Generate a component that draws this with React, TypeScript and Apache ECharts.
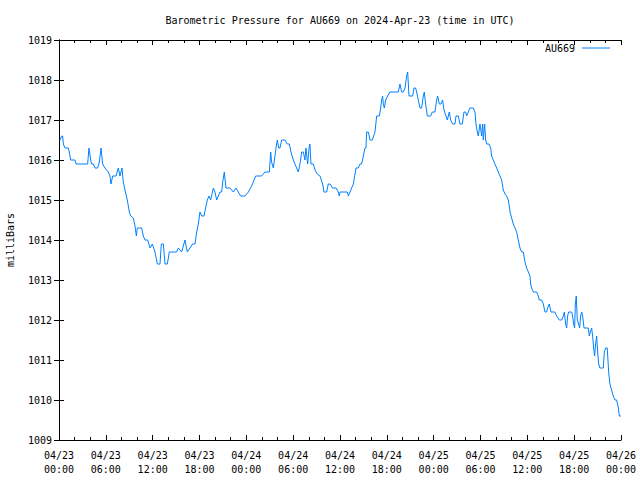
import React, { useEffect, useRef } from "react";
import * as echarts from "echarts";

const TITLE = "Barometric Pressure for AU669 on 2024-Apr-23 (time in UTC)";
const SERIES_NAME = "AU669";
const Y_NAME = "milliBars";

// hours since 2024-04-23 00:00 UTC
const hours: number[] = [
  0.13, 0.34, 0.47, 0.56, 0.77, 1.2, 1.32, 1.49, 2.05, 2.18, 3.67, 3.84, 4.06, 4.18, 4.4, 4.61, 4.95, 5.17, 5.38, 5.59,
  5.89, 6.32, 6.53, 6.66, 6.88, 7.3, 7.6, 7.81, 8.07, 8.24, 8.45, 8.75, 9.01, 9.18, 9.52, 9.74, 9.91, 10.03, 10.59, 10.8,
  11.02, 11.36, 11.66, 11.96, 12.3, 12.6, 12.94, 13.11, 13.37, 13.58, 13.88, 14.13, 15.07, 15.29, 15.71, 16.14, 16.44, 16.78, 17.12, 17.42,
  17.64, 17.85, 18.06, 18.28, 18.58, 18.83, 19.0, 19.22, 19.43, 19.77, 19.98, 20.2, 20.41, 20.63, 20.84, 20.97, 21.18, 21.39, 21.91, 22.33,
  22.67, 22.97, 23.27, 23.83, 24.26, 24.68, 24.9, 25.19, 25.96, 26.39, 26.95, 27.12, 27.24, 27.46, 27.67, 27.8, 27.97, 28.14, 28.31, 28.53,
  28.95, 29.25, 29.51, 29.72, 30.02, 30.23, 30.66, 30.87, 31.09, 31.3, 31.51, 31.64, 31.86, 32.03, 32.15, 32.28, 32.58, 32.8, 33.09, 33.44,
  33.78, 33.95, 34.29, 34.5, 34.72, 35.06, 35.49, 35.78, 35.91, 36.0, 36.94, 37.07, 37.28, 37.49, 37.71, 37.92, 38.05, 38.35, 38.56, 38.77,
  38.99, 39.2, 39.33, 39.41, 39.63, 39.84, 40.14, 40.48, 40.7, 41.04, 41.21, 41.34, 41.46, 41.55, 41.68, 41.85, 42.1, 42.4, 43.47, 43.68,
  43.9, 44.11, 44.33, 44.54, 44.67, 44.84, 45.31, 45.48, 45.69, 45.82, 46.03, 46.25, 46.46, 46.67, 46.8, 46.97, 47.19, 47.61, 47.83, 48.17,
  48.38, 48.51, 48.72, 48.94, 49.15, 49.32, 49.58, 49.75, 50.0, 50.18, 50.43, 50.73, 50.86, 51.16, 51.37, 51.67, 51.88, 52.1, 52.22, 52.44,
  52.65, 53.08, 53.29, 53.42, 53.59, 53.72, 53.93, 54.15, 54.28, 54.36, 54.53, 54.66, 54.79, 55.09, 55.3, 55.43, 55.64, 55.85, 56.07, 56.28,
  56.5, 56.71, 56.92, 57.14, 57.35, 57.56, 57.69, 57.78, 57.99, 58.2, 58.42, 58.63, 58.84, 59.06, 59.27, 59.48, 59.7, 59.91, 60.13, 60.34,
  60.42, 60.55, 60.77, 61.19, 61.41, 61.53, 61.83, 62.05, 62.26, 62.47, 62.6, 62.81, 63.03, 63.54, 63.75, 64.1, 64.4, 64.61, 64.74, 64.91,
  65.04, 65.16, 65.29, 65.68, 65.8, 65.93, 66.06, 66.15, 66.27, 66.4, 66.57, 66.7, 66.83, 66.96, 67.09, 67.26, 67.81, 67.94, 68.07, 68.24,
  68.37, 68.49, 68.62, 68.75, 68.88, 69.01, 69.14, 69.31, 69.52, 69.73, 69.86, 70.03, 70.24, 70.42, 70.58, 70.8, 71.01, 71.23, 71.44, 71.66,
  71.78, 72.0,
];

const pressure: number[] = [
  1016.5, 1016.6, 1016.6, 1016.4, 1016.3, 1016.3, 1016.2, 1016.0, 1016.0, 1015.9, 1015.9, 1016.3, 1016.0, 1015.9, 1015.9, 1015.8, 1015.8, 1015.95, 1016.3, 1015.9,
  1015.8, 1015.7, 1015.6, 1015.4, 1015.6, 1015.6, 1015.8, 1015.6, 1015.8, 1015.45, 1015.25, 1015.0, 1014.7, 1014.6, 1014.55, 1014.35, 1014.1, 1014.3, 1014.3, 1014.1,
  1014.0, 1014.0, 1013.8, 1013.9, 1013.7, 1013.4, 1013.4, 1013.9, 1013.9, 1013.4, 1013.4, 1013.7, 1013.7, 1013.8, 1013.7, 1014.0, 1013.7, 1013.8, 1013.9, 1013.9,
  1014.2, 1014.4, 1014.7, 1014.6, 1014.6, 1014.85, 1015.0, 1015.1, 1015.0, 1015.3, 1015.2, 1015.0, 1015.1, 1015.2, 1015.2, 1015.45, 1015.7, 1015.3, 1015.3, 1015.2,
  1015.3, 1015.2, 1015.1, 1015.1, 1015.2, 1015.35, 1015.45, 1015.6, 1015.6, 1015.7, 1015.7, 1016.2, 1015.95, 1015.8, 1016.1, 1016.3, 1016.5, 1016.3, 1016.3, 1016.5,
  1016.5, 1016.4, 1016.4, 1016.2, 1016.0, 1015.9, 1015.7, 1015.9, 1016.2, 1016.2, 1016.0, 1016.3, 1015.9, 1016.3, 1016.4, 1015.9, 1015.9, 1015.75, 1015.65, 1015.6,
  1015.4, 1015.2, 1015.2, 1015.4, 1015.4, 1015.3, 1015.3, 1015.2, 1015.1, 1015.2, 1015.2, 1015.1, 1015.2, 1015.3, 1015.4, 1015.65, 1015.8, 1015.8, 1015.9, 1015.9,
  1016.1, 1016.3, 1016.3, 1016.7, 1016.7, 1016.5, 1016.5, 1016.7, 1017.1, 1017.1, 1017.3, 1017.5, 1017.6, 1017.4, 1017.3, 1017.5, 1017.6, 1017.7, 1017.7, 1017.9,
  1017.7, 1017.7, 1017.8, 1018.1, 1018.2, 1017.6, 1017.6, 1017.8, 1017.8, 1017.7, 1017.5, 1017.3, 1017.3, 1017.6, 1017.7, 1017.4, 1017.1, 1017.1, 1017.2, 1017.2,
  1017.5, 1017.6, 1017.4, 1017.4, 1017.5, 1017.25, 1017.1, 1017.0, 1017.2, 1017.0, 1016.9, 1016.9, 1017.1, 1017.1, 1016.9, 1016.9, 1017.2, 1017.2, 1017.1, 1017.2,
  1017.3, 1017.3, 1017.2, 1016.9, 1016.7, 1016.6, 1016.9, 1016.6, 1016.9, 1016.5, 1016.9, 1016.5, 1016.4, 1016.4, 1016.3, 1016.1, 1016.0, 1015.9, 1015.8, 1015.7,
  1015.6, 1015.5, 1015.25, 1015.15, 1015.1, 1015.0, 1014.85, 1014.7, 1014.55, 1014.4, 1014.3, 1014.2, 1014.0, 1013.8, 1013.7, 1013.7, 1013.45, 1013.3, 1013.2, 1013.1,
  1012.9, 1012.8, 1012.7, 1012.7, 1012.6, 1012.5, 1012.5, 1012.4, 1012.2, 1012.2, 1012.3, 1012.4, 1012.2, 1012.2, 1012.1, 1012.0, 1012.0, 1012.1, 1012.2, 1011.9,
  1011.8, 1012.1, 1012.2, 1012.2, 1012.1, 1011.9, 1011.8, 1012.4, 1012.6, 1012.0, 1011.9, 1011.8, 1012.1, 1012.2, 1012.1, 1011.8, 1011.8, 1011.6, 1011.7, 1011.8,
  1011.6, 1011.3, 1011.1, 1011.4, 1011.6, 1011.2, 1010.9, 1010.8, 1010.8, 1010.8, 1011.2, 1011.3, 1011.3, 1010.7, 1010.4, 1010.25, 1010.1, 1010.0, 1010.0, 1009.8,
  1009.6, 1009.6,
];

const FONT = "DejaVu Sans Mono";

function xLabel(h: number): string {
  const day = 23 + Math.floor(h / 24);
  const hh = Math.round(h % 24);
  return "04/" + String(day) + "\n" + String(hh).padStart(2, "0") + ":00";
}

export default function App() {
  const ref = useRef<HTMLDivElement>(null);
  useEffect(() => {
    if (!ref.current) return;
    const chart = echarts.init(ref.current, undefined, { renderer: "svg" });
    const data = hours.map((h, i) => [h, pressure[i]]);
    const axisLine = { show: true, lineStyle: { color: "#000", width: 1 } };
    const tick = { show: true, inside: true, length: 5, lineStyle: { color: "#000", width: 1 } };
    const minor = { show: true, splitNumber: 3, length: 3, lineStyle: { color: "#000", width: 1 } };
    chart.setOption({
      animation: false,
      backgroundColor: "#fff",
      grid: { left: 59, right: 19, top: 40, bottom: 40, containLabel: false },
      graphic: [
        {
          type: "text",
          x: 340,
          y: 20,
          style: { text: TITLE, font: `10px "${FONT}"`, fill: "#000", textAlign: "center", textVerticalAlign: "middle" },
        },
        {
          type: "text",
          x: 10,
          y: 240,
          rotation: Math.PI / 2,
          style: { text: Y_NAME, font: `10px "${FONT}"`, fill: "#000", textAlign: "center", textVerticalAlign: "middle" },
        },
      ],
      legend: {
        right: 30,
        top: 43,
        padding: 0,
        align: "right",
        icon: "rect",
        itemWidth: 28,
        itemHeight: 1,
        itemGap: 0,
        textStyle: { fontFamily: FONT, fontSize: 10, color: "#000", padding: [0, 2, 0, 0] },
        data: [SERIES_NAME],
      },
      xAxis: [
        {
          type: "value",
          min: 0,
          max: 72,
          interval: 6,
          position: "bottom",
          axisLine,
          axisTick: tick,
          minorTick: minor,
          splitLine: { show: false },
          axisLabel: { margin: 8, fontFamily: FONT, fontSize: 10, color: "#000", lineHeight: 14, formatter: (v: number) => xLabel(v) },
        },
        {
          type: "value",
          min: 0,
          max: 72,
          interval: 6,
          position: "top",
          axisLine,
          axisTick: tick,
          minorTick: minor,
          splitLine: { show: false },
          axisLabel: { show: false },
        },
      ],
      yAxis: [
        {
          type: "value",
          min: 1009,
          max: 1019,
          interval: 1,
          position: "left",
          axisLine,
          axisTick: tick,
          splitLine: { show: false },
          axisLabel: { margin: 7, fontFamily: FONT, fontSize: 10, color: "#000", formatter: (v: number) => String(v) },
        },
        {
          type: "value",
          min: 1009,
          max: 1019,
          interval: 1,
          position: "right",
          axisLine,
          axisTick: tick,
          splitLine: { show: false },
          axisLabel: { show: false },
        },
      ],
      series: [
        {
          name: SERIES_NAME,
          type: "line",
          xAxisIndex: 0,
          yAxisIndex: 0,
          data,
          showSymbol: false,
          symbol: "none",
          lineStyle: { color: "#0080ff", width: 1 },
          itemStyle: { color: "#0080ff" },
          silent: true,
        },
      ],
    });
    return () => chart.dispose();
  }, []);
  return <div ref={ref} style={{ width: 640, height: 480, position: "absolute", left: 0, top: 0 }} />;
}
